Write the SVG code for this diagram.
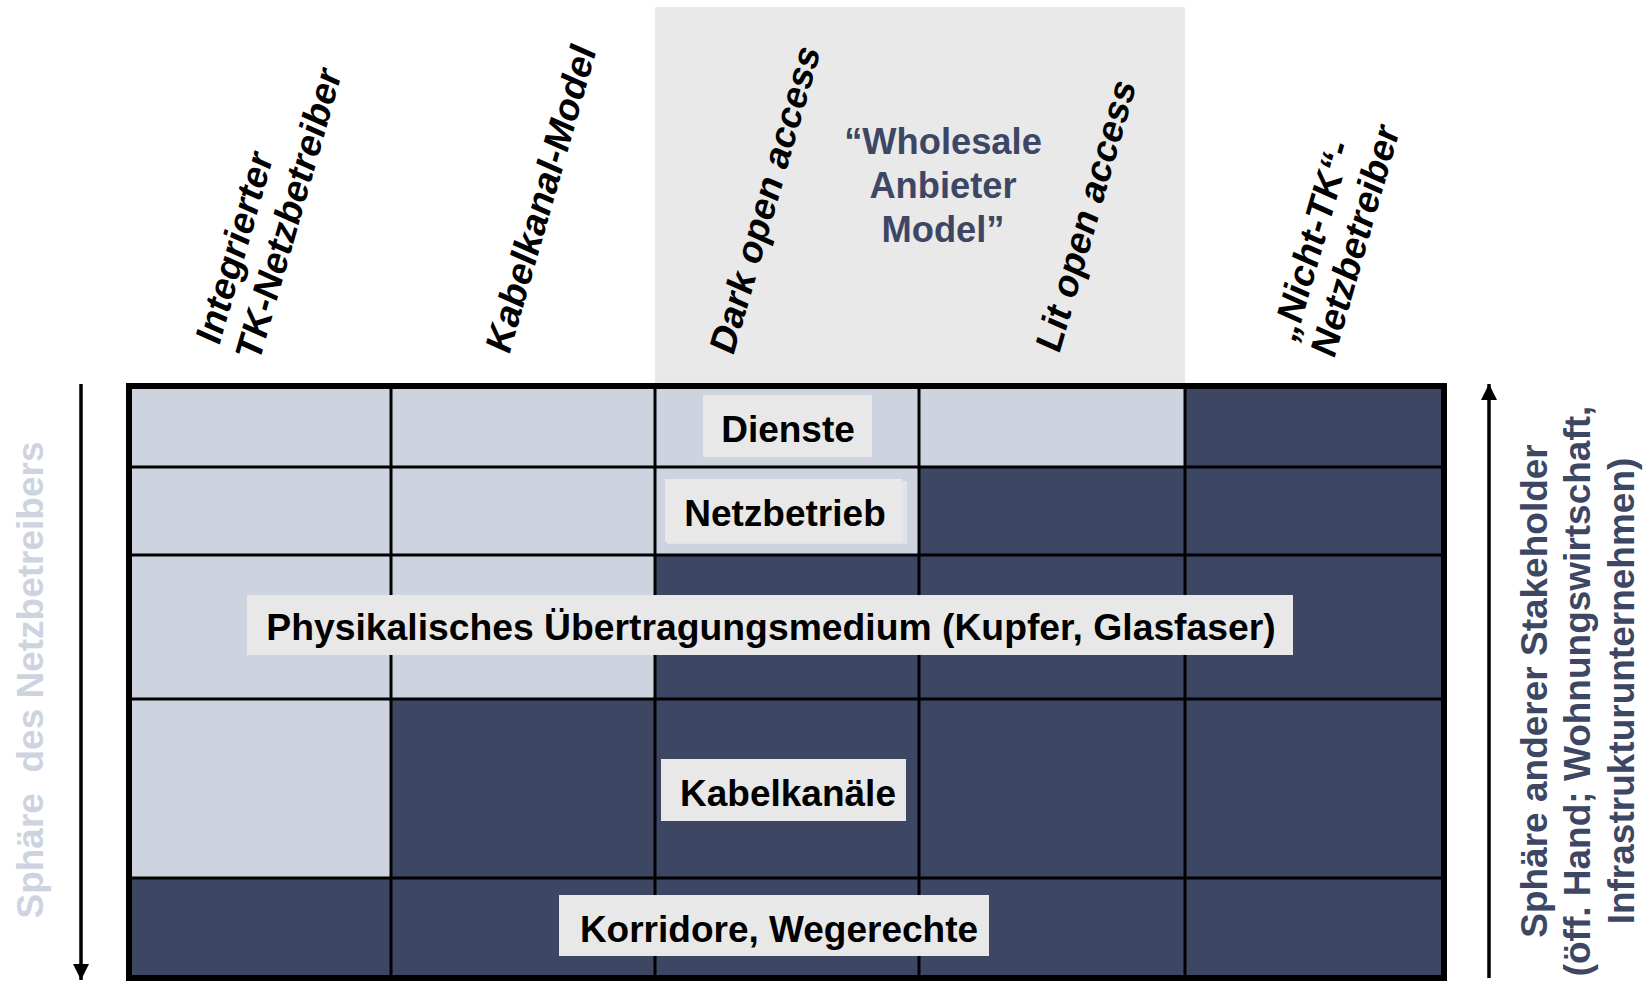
<svg xmlns="http://www.w3.org/2000/svg" width="1648" height="981" viewBox="0 0 1648 981">
  <style>
    text { font-family: "Liberation Sans", Arial, sans-serif; font-weight: bold; }
    .hdr { font-size: 37.3px; fill: #000000; }
    .lbl { font-size: 37px; fill: #000000; text-anchor: middle; }
    .wh { font-size: 36.3px; fill: #3D4764; text-anchor: middle; }
    .side-l { font-size: 37px; fill: #CDD4E0; text-anchor: middle; }
    .side-r { font-size: 37px; fill: #3D4764; text-anchor: middle; }
    .lt { fill: #CDD4E0; }
    .dk { fill: #3D4764; }
    .box { fill: #E8E8E8; }
    .grid { stroke: #000000; stroke-width: 3; fill: none; }
  </style>
  <defs>
    <marker id="arrowhead" viewBox="0 0 10 10" refX="10" refY="5" markerWidth="16" markerHeight="16" markerUnits="userSpaceOnUse" orient="auto">
      <path d="M0,0 L10,5 L0,10 Z" fill="#000000"/>
    </marker>
  </defs>

  <rect width="1648" height="981" fill="#FFFFFF"/>

  <!-- wholesale provider band behind columns 3 and 4 -->
  <g id="wholesale">
    <rect x="655" y="7" width="530" height="376" fill="#E9E9E9"/>
    <text class="wh" x="943" y="154">“Wholesale</text>
    <text class="wh" x="943" y="198">Anbieter</text>
    <text class="wh" x="943" y="242">Model”</text>
  </g>

  <!-- column headers: slanted, sheared text -->
  <g id="hdr-integriert">
    <text class="hdr" transform="translate(219,347) rotate(-74) skewX(-8)">Integrierter</text>
    <text class="hdr" transform="translate(259,363) rotate(-74) skewX(-8)">TK-Netzbetreiber</text>
  </g>
  <g id="hdr-kabelkanal">
    <text class="hdr" transform="translate(509,356) rotate(-74) skewX(-8)">Kabelkanal-Model</text>
  </g>
  <g id="hdr-dark">
    <text class="hdr" transform="translate(733,357) rotate(-74) skewX(-8)">Dark open access</text>
  </g>
  <g id="hdr-lit">
    <text class="hdr" transform="translate(1059,355) rotate(-74) skewX(-8)">Lit open access</text>
  </g>
  <g id="hdr-nicht-tk">
    <text class="hdr" transform="translate(1295,344) rotate(-74) skewX(-8)">„Nicht-TK“-</text>
    <text class="hdr" transform="translate(1334,360) rotate(-74) skewX(-8)">Netzbetreiber</text>
  </g>

  <!-- matrix cells: rows = layers, columns = models -->
  <g id="matrix">
    <!-- row 1: Dienste -->
    <rect class="lt" x="129" y="386" width="262" height="81"/>
    <rect class="lt" x="391" y="386" width="264" height="81"/>
    <rect class="lt" x="655" y="386" width="264" height="81"/>
    <rect class="lt" x="919" y="386" width="266" height="81"/>
    <rect class="dk" x="1185" y="386" width="259" height="81"/>
    <!-- row 2: Netzbetrieb -->
    <rect class="lt" x="129" y="467" width="262" height="88"/>
    <rect class="lt" x="391" y="467" width="264" height="88"/>
    <rect class="lt" x="655" y="467" width="264" height="88"/>
    <rect class="dk" x="919" y="467" width="266" height="88"/>
    <rect class="dk" x="1185" y="467" width="259" height="88"/>
    <!-- row 3: physical medium -->
    <rect class="lt" x="129" y="555" width="262" height="144"/>
    <rect class="lt" x="391" y="555" width="264" height="144"/>
    <rect class="dk" x="655" y="555" width="264" height="144"/>
    <rect class="dk" x="919" y="555" width="266" height="144"/>
    <rect class="dk" x="1185" y="555" width="259" height="144"/>
    <!-- row 4: Kabelkanäle -->
    <rect class="lt" x="129" y="699" width="262" height="179"/>
    <rect class="dk" x="391" y="699" width="264" height="179"/>
    <rect class="dk" x="655" y="699" width="264" height="179"/>
    <rect class="dk" x="919" y="699" width="266" height="179"/>
    <rect class="dk" x="1185" y="699" width="259" height="179"/>
    <!-- row 5: corridors -->
    <rect class="dk" x="129" y="878" width="1315" height="100"/>

    <!-- grid lines -->
    <path class="grid" d="M391,386 V978 M655,386 V978 M919,386 V978 M1185,386 V978 M129,467 H1444 M129,555 H1444 M129,699 H1444 M129,878 H1444"/>
    <rect x="129" y="386" width="1315" height="592" fill="none" stroke="#000000" stroke-width="6"/>
  </g>

  <!-- layer labels -->
  <g id="lbl-dienste">
    <rect class="box" x="703" y="395" width="169" height="62"/>
    <text class="lbl" x="788" y="442">Dienste</text>
  </g>
  <g id="lbl-netzbetrieb">
    <rect x="667" y="481" width="240" height="63" fill="#E1E3E8"/>
    <rect class="box" x="665" y="479" width="237" height="63"/>
    <text class="lbl" x="785" y="526">Netzbetrieb</text>
  </g>
  <g id="lbl-medium">
    <rect class="box" x="247" y="595" width="1046" height="60"/>
    <text class="lbl" x="771" y="640" style="font-size:37.3px">Physikalisches Übertragungsmedium (Kupfer, Glasfaser)</text>
  </g>
  <g id="lbl-kabelkanaele">
    <rect class="box" x="661" y="759" width="245" height="62"/>
    <text class="lbl" x="788" y="806">Kabelkanäle</text>
  </g>
  <g id="lbl-korridore">
    <rect class="box" x="559" y="895" width="430" height="61"/>
    <text class="lbl" x="779" y="942">Korridore, Wegerechte</text>
  </g>

  <!-- side arrows -->
  <g id="connectors">
    <line x1="81" y1="384" x2="81" y2="980" stroke="#000000" stroke-width="3.5" marker-end="url(#arrowhead)"/>
    <line x1="1489" y1="978" x2="1489" y2="384" stroke="#000000" stroke-width="3.5" marker-end="url(#arrowhead)"/>
  </g>

  <!-- side captions -->
  <g id="side-netzbetreiber">
    <text class="side-l" transform="translate(43,680) rotate(-90)" xml:space="preserve">Sphäre  des Netzbetreibers</text>
  </g>
  <g id="side-stakeholder">
    <text class="side-r" transform="translate(1547,691) rotate(-90)">Sphäre anderer Stakeholder</text>
    <text class="side-r" transform="translate(1590,691) rotate(-90)">(öff. Hand; Wohnungswirtschaft,</text>
    <text class="side-r" transform="translate(1634,691) rotate(-90)">Infrastrukturunternehmen)</text>
  </g>
</svg>
